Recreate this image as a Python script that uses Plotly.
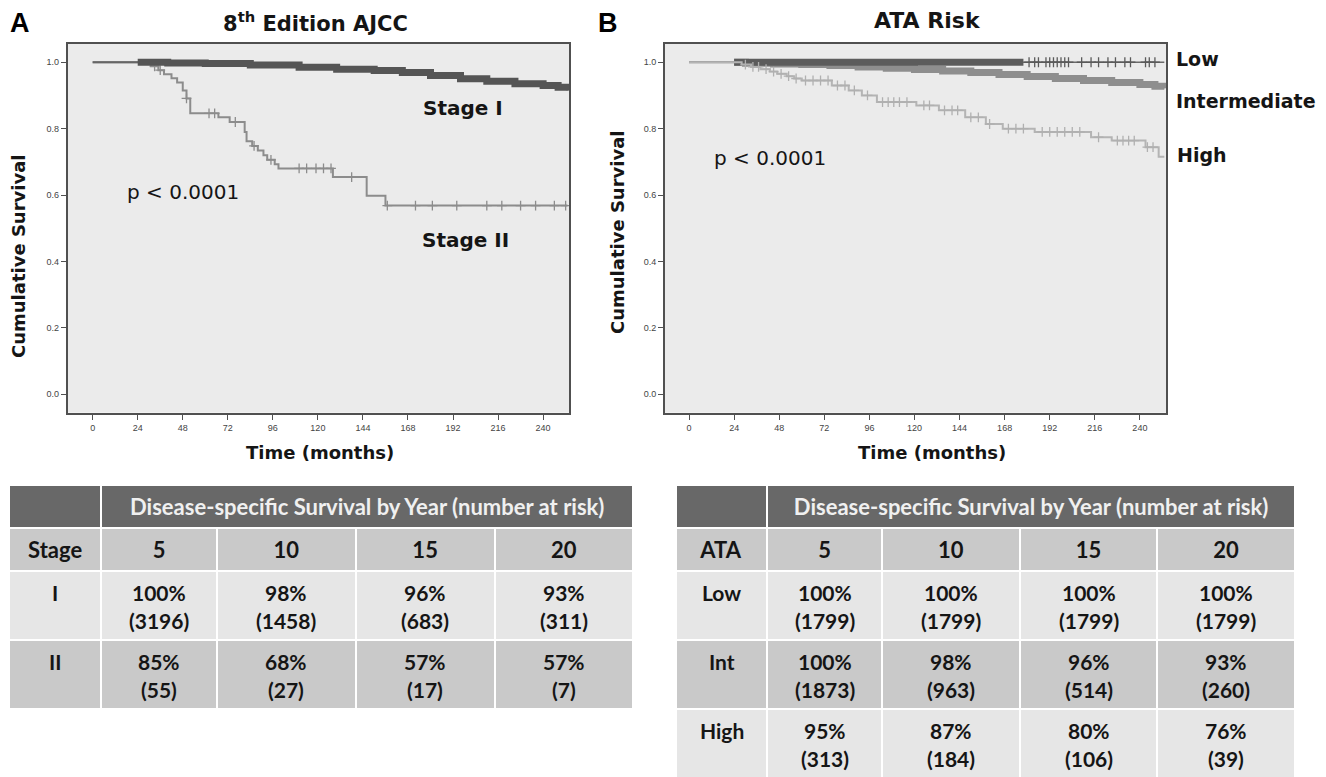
import numpy as np
import plotly.graph_objects as go

W, H = 1326, 777

# ------------------------------------------------------------------ data
month_ticks = [0, 24, 48, 72, 96, 120, 144, 168, 192, 216, 240]
surv_ticks = [0.0, 0.2, 0.4, 0.6, 0.8, 1.0]

# Panel A - 8th edition AJCC (step points: time in months, survival)
stage1_t = [0, 24, 40, 60, 84, 110, 130, 150, 165, 180, 196, 210, 225, 240, 248, 253]
stage1_s = [1.0, 1.0, 0.998, 0.996, 0.992, 0.985, 0.979, 0.975, 0.969, 0.960, 0.950, 0.943, 0.935, 0.930, 0.925, 0.915]
stage1_band = [24, 253]

stage2_t = [0, 31, 35, 38, 42, 45, 48, 50, 52, 67, 73, 81, 82, 85, 88, 91, 93, 97, 99, 128, 146, 156, 253]
stage2_s = [1.0, 0.988, 0.976, 0.964, 0.952, 0.939, 0.915, 0.891, 0.846, 0.834, 0.820, 0.790, 0.762,
            0.748, 0.734, 0.720, 0.706, 0.693, 0.680, 0.654, 0.598, 0.568, 0.568]
stage2_cens = [33, 36, 50, 62, 65, 76, 86, 95, 110, 114, 119, 123, 127, 138, 157, 172, 181, 194,
               210, 218, 228, 236, 246, 252]

# Panel B - ATA risk
low_t = [0, 253]
low_s = [1.0, 1.0]
low_band = [24, 178]
low_cens = [181, 184, 186, 190, 192, 194, 196, 198, 200, 202, 209, 214, 218, 223, 227, 232, 235, 243, 245, 248]

int_t = [0, 30, 45, 60, 75, 90, 105, 120, 135, 150, 165, 180, 195, 210, 225, 240, 248, 253]
int_s = [1.0, 0.997, 0.995, 0.993, 0.990, 0.986, 0.982, 0.978, 0.974, 0.969, 0.963, 0.957, 0.951,
         0.945, 0.939, 0.933, 0.928, 0.922]
int_band = [24, 253]

high_t = [0, 28, 33, 38, 43, 47, 52, 56, 60, 76, 85, 92, 100, 121, 133, 147, 158, 167, 184, 214, 225, 243, 250, 253]
high_s = [1.0, 0.993, 0.986, 0.979, 0.972, 0.965, 0.958, 0.951, 0.945, 0.930, 0.915, 0.900, 0.880,
          0.870, 0.855, 0.834, 0.814, 0.800, 0.790, 0.774, 0.764, 0.744, 0.715, 0.715]
high_cens = [30, 34, 37, 41, 45, 49, 53, 57, 62, 66, 70, 74, 79, 83, 88, 95, 103, 106, 109, 112, 116,
             125, 128, 136, 140, 143, 150, 154, 160, 170, 174, 178, 188, 192, 196, 200, 204, 208,
             218, 228, 231, 234, 237, 244, 247]

# Tables
table_title = "Disease-specific Survival by Year (number at risk)"
years = [5, 10, 15, 20]
stageA_label = "Stage"
stageA_rows = ["I", "II"]
stageA_surv = [[100, 98, 96, 93], [85, 68, 57, 57]]
stageA_risk = [[3196, 1458, 683, 311], [55, 27, 17, 7]]

ataB_label = "ATA"
ataB_rows = ["Low", "Int", "High"]
ataB_surv = [[100, 100, 100, 100], [100, 98, 96, 93], [95, 87, 80, 76]]
ataB_risk = [[1799, 1799, 1799, 1799], [1873, 963, 514, 260], [313, 184, 106, 39]]

# ------------------------------------------------------------------ helpers
def px(x):
    return x / W


def py(y):
    return 1 - y / H


def step_at(ts, ss, t):
    i = int(np.searchsorted(ts, t, side="right")) - 1
    return ss[max(i, 0)]


def band(ts, ss, rng):
    a, b = rng
    bt = [a] + [t for t in ts if a < t < b] + [b]
    bs = [step_at(ts, ss, t) for t in bt]
    return bt, bs


COMIC = "DejaVu Sans"
TXT = "#151515"

fig = go.Figure()


def step_trace(ts, ss, color, width, xa, ya):
    fig.add_trace(go.Scatter(x=ts, y=ss, mode="lines", line=dict(color=color, width=width, shape="hv"),
                             xaxis=xa, yaxis=ya, hoverinfo="skip", showlegend=False))


def cens_trace(ts, ss, cens, color, xa, ya, size=7):
    fig.add_trace(go.Scatter(x=cens, y=[step_at(ts, ss, c) for c in cens], mode="markers",
                             marker=dict(symbol="cross-thin", size=size, line=dict(color=color, width=1.3)),
                             xaxis=xa, yaxis=ya, hoverinfo="skip", showlegend=False))


# Panel A
step_trace(stage2_t, stage2_s, "#8c8c8c", 2, "x", "y")
cens_trace(stage2_t, stage2_s, stage2_cens, "#8c8c8c", "x", "y")
step_trace(stage1_t, stage1_s, "#666666", 2, "x", "y")
bt, bs = band(stage1_t, stage1_s, stage1_band)
step_trace(bt, bs, "#555555", 7, "x", "y")

# Panel B
step_trace(int_t, int_s, "#8a8a8a", 2, "x2", "y2")
bt, bs = band(int_t, int_s, int_band)
step_trace(bt, bs, "#8e8e8e", 7, "x2", "y2")
step_trace(low_t, low_s, "#6a6a6a", 1.5, "x2", "y2")
bt, bs = band(low_t, low_s, low_band)
step_trace(bt, bs, "#5c5c5c", 7, "x2", "y2")
cens_trace(low_t, low_s, low_cens, "#5a5a5a", "x2", "y2")
step_trace(high_t, high_s, "#b4b4b4", 2, "x2", "y2")
cens_trace(high_t, high_s, high_cens, "#b0b0b0", "x2", "y2")

# ------------------------------------------------------------------ axes
axis_common = dict(showline=True, mirror=True, linecolor="#505050", linewidth=2, showgrid=False,
                   zeroline=False, ticks="outside", ticklen=5, tickwidth=1.3, tickcolor="#505050",
                   tickfont=dict(family="Liberation Sans", size=9, color="#444444"), fixedrange=True)

ydom = [py(412.7), py(44)]
fig.update_layout(
    xaxis=dict(domain=[px(67.7), px(569)], range=[-13.3, 253.8], tickvals=month_ticks, anchor="y", **axis_common),
    yaxis=dict(domain=ydom, range=[-0.056, 1.055], tickvals=surv_ticks, tickformat=".1f", anchor="x", **axis_common),
    xaxis2=dict(domain=[px(665), px(1166)], range=[-12.8, 253.9], tickvals=month_ticks, anchor="y2", **axis_common),
    yaxis2=dict(domain=ydom, range=[-0.056, 1.055], tickvals=surv_ticks, tickformat=".1f", anchor="x2", **axis_common),
)

# ------------------------------------------------------------------ tables
HDR = "#686868"
MID = "#c9c9c9"
LIGHT = "#e6e6e6"
TFONT = "Lato"
col_w = [92, 116, 139, 139, 139]
BODY_TOP = 528      # px, top of the column-header row
HEAD_H = 40         # px, column-header row height
ROW_H = 69          # px, data row height


def ann(text, x, y, size, family=COMIC, xanchor="center", angle=0, color=TXT):
    fig.add_annotation(text=text, x=px(x), y=py(y), xref="paper", yref="paper", showarrow=False,
                       xanchor=xanchor, yanchor="middle", textangle=angle,
                       font=dict(family=family, size=size, color=color))


def add_table(x0, x1, label, labels, surv, risk):
    dom_x = [px(x0), px(x1)]
    n = len(labels)
    # title bar
    fig.add_trace(go.Table(
        domain=dict(x=dom_x, y=[py(531), py(485)]),
        columnwidth=[col_w[0], sum(col_w[1:])],
        header=dict(values=[" ", f"<b>{table_title}</b>"], fill_color=HDR,
                    line=dict(color="white", width=2), height=40, align="center",
                    font=dict(family=TFONT, size=22, color="#f0f0f0")),
        cells=dict(values=[[" "], [" "]], height=6, fill_color="white",
                   line=dict(color="white", width=0), font=dict(size=4))))
    # body: column header row + data rows (cell text is laid on as centred annotations)
    row_fill = [LIGHT if i % 2 == 0 else MID for i in range(n)]
    fig.add_trace(go.Table(
        domain=dict(x=dom_x, y=[0, py(BODY_TOP)]),
        columnwidth=col_w,
        header=dict(values=[f"<b>{label}</b>"] + [f"<b>{y}</b>" for y in years], fill_color=MID,
                    line=dict(color="white", width=2), height=HEAD_H, align="center",
                    font=dict(family=TFONT, size=22, color=TXT)),
        cells=dict(values=[[" "] * n for _ in range(5)], fill_color=[row_fill] * 5,
                   line=dict(color="white", width=2), height=ROW_H, align="center",
                   font=dict(family=TFONT, size=10, color=TXT))))
    # cell texts
    scale = (x1 - x0) / sum(col_w)
    edges = [x0]
    for w in col_w:
        edges.append(edges[-1] + w * scale)
    centers = [(edges[k] + edges[k + 1]) / 2 for k in range(5)]
    for i in range(n):
        top = BODY_TOP + HEAD_H + i * ROW_H
        ann(f"<b>{labels[i]}</b>", centers[0], top + 24, 21, family=TFONT)
        for j in range(len(years)):
            ann(f"<b>{surv[i][j]}%</b>", centers[j + 1], top + 24, 21, family=TFONT)
            ann(f"<b>({risk[i][j]})</b>", centers[j + 1], top + 52, 21, family=TFONT)


add_table(9.3, 633.4, stageA_label, stageA_rows, stageA_surv, stageA_risk)
add_table(676, 1295, ataB_label, ataB_rows, ataB_surv, ataB_risk)

# ------------------------------------------------------------------ annotations
ann("<b>A</b>", 20, 23, 27, family="Liberation Sans", color="#000")
ann("<b>B</b>", 608, 23, 27, family="Liberation Sans", color="#000")
ann("<b>8<sup>th</sup> Edition AJCC</b>", 315, 22, 21)
ann("<b>ATA Risk</b>", 927, 20, 22)
ann("<b>Cumulative Survival</b>", 19, 256, 18, angle=-90)
ann("<b>Cumulative Survival</b>", 617, 232, 18, angle=-90)
ann("<b>Time (months)</b>", 320, 452, 18)
ann("<b>Time (months)</b>", 932, 452, 18)
ann("<b>Stage I</b>", 463, 108, 20)
ann("<b>Stage II</b>", 466, 240, 20)
ann("p < 0.0001", 183, 192, 20, family="DejaVu Sans")
ann("p < 0.0001", 770, 158, 20, family="DejaVu Sans")
ann("<b>Low</b>", 1174, 59, 19, xanchor="left")
ann("<b>Intermediate</b>", 1174, 101, 19, xanchor="left")
ann("<b>High</b>", 1175, 155, 19, xanchor="left")

fig.update_layout(
    width=W, height=H, autosize=False,
    margin=dict(l=0, r=0, t=0, b=0),
    paper_bgcolor="white", plot_bgcolor="#ebebeb",
    showlegend=False,
)

fig.write_html("out.html", config={"displayModeBar": False},
               post_script="document.body.style.margin='0';document.body.style.overflow='hidden';")
